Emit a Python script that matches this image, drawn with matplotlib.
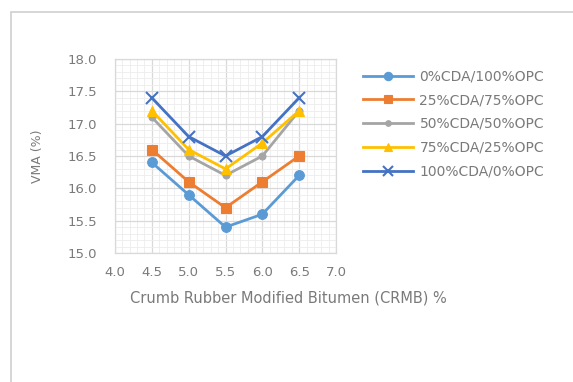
import matplotlib
matplotlib.use("Agg")
import matplotlib.pyplot as plt
from matplotlib.patches import Rectangle
from matplotlib.ticker import MultipleLocator, FormatStrFormatter
from matplotlib.lines import Line2D

plt.rcParams['font.family'] = ['DejaVu Sans']

crmb = [4.5, 5.0, 5.5, 6.0, 6.5]
labels = ["0%CDA/100%OPC", "25%CDA/75%OPC", "50%CDA/50%OPC",
          "75%CDA/25%OPC", "100%CDA/0%OPC"]
cda0 = [16.4, 15.9, 15.4, 15.6, 16.2]
cda25 = [16.6, 16.1, 15.7, 16.1, 16.5]
cda50 = [17.1, 16.5, 16.2, 16.5, 17.2]
cda75 = [17.2, 16.6, 16.3, 16.7, 17.2]
cda100 = [17.4, 16.8, 16.5, 16.8, 17.4]

series = [cda0, cda25, cda50, cda75, cda100]
colors = ["#5B9BD5", "#ED7D31", "#A5A5A5", "#FFC000", "#4472C4"]
markers = ["o", "s", "o", "^", "x"]
msizes = [7, 7, 5, 7, 8]
text_color = "#7A7A7A"

W, H = 573, 382
fig = plt.figure(figsize=(W / 100, H / 100), dpi=100)
fig.patch.set_facecolor("white")

# chart frame
fig.patches.append(Rectangle((11 / W, -0.1), 1.2, 1 - 12 / H + 0.1,
                             transform=fig.transFigure, fill=False,
                             edgecolor="#D0D0D0", linewidth=1.2))

left, right, top, bottom = 115, 336, 59, 253
ax = fig.add_axes([left / W, 1 - bottom / H, (right - left) / W, (bottom - top) / H])

for ys, c, m, ms, lab in zip(series, colors, markers, msizes, labels):
    ax.plot(crmb, ys, color=c, marker=m, markersize=ms, linewidth=2,
            markeredgewidth=1.5 if m == "x" else 0.8, label=lab)

ax.set_xlim(4.0, 7.0)
ax.set_ylim(15.0, 18.0)
ax.xaxis.set_major_locator(MultipleLocator(0.5))
ax.yaxis.set_major_locator(MultipleLocator(0.5))
ax.xaxis.set_minor_locator(MultipleLocator(0.1))
ax.yaxis.set_minor_locator(MultipleLocator(0.1))
ax.grid(which="major", color="#D9D9D9", linewidth=0.9)
ax.grid(which="minor", color="#EDEDED", linewidth=0.6)
ax.set_axisbelow(True)
for s in ax.spines.values():
    s.set_color("#D9D9D9")
    s.set_linewidth(0.9)
ax.tick_params(which="both", length=0, colors=text_color, labelsize=9.5)
ax.tick_params(axis="y", pad=13)
ax.tick_params(axis="x", pad=9)
ax.xaxis.set_major_formatter(FormatStrFormatter("%.1f"))
ax.yaxis.set_major_formatter(FormatStrFormatter("%.1f"))

ax.set_ylabel("VMA (%)", color=text_color, fontsize=9)
ax.yaxis.set_label_coords(-0.32, 0.5)
fig.text(288 / W, 1 - 298 / H, "Crumb Rubber Modified Bitumen (CRMB) %",
         ha="center", va="center", color=text_color, fontsize=10.5)

handles = [Line2D([0], [0], color=c, marker=m, markersize=ms - 1, linewidth=2,
                  markeredgewidth=1.5 if m == "x" else 0.8)
           for c, m, ms in zip(colors, markers, msizes)]
leg = fig.legend(handles, labels, loc="upper left",
                 bbox_to_anchor=(350 / W, 1 - 57 / H), frameon=False,
                 fontsize=10, handlelength=3.6, labelspacing=0.7,
                 handletextpad=0.5)
for t in leg.get_texts():
    t.set_color(text_color)

fig.savefig("out.png", dpi=100, facecolor="white")
